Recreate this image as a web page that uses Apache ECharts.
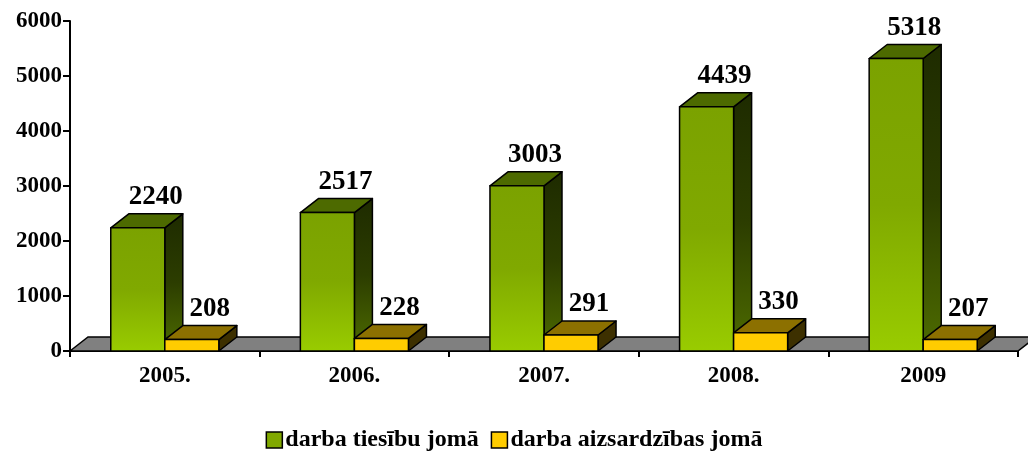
<!DOCTYPE html>
<html>
<head>
<meta charset="utf-8">
<script src="https://cdn.jsdelivr.net/npm/echarts@6/dist/echarts.min.js"></script>
<style>
  html, body { margin: 0; padding: 0; background: #fff; }
  #chart { width: 1028px; height: 452px; }
</style>
</head>
<body>
<div id="chart"></div>
<script>
// data
const years = ['2005.', '2006.', '2007.', '2008.', '2009'];
const tiesibu = [2240, 2517, 3003, 4439, 5318];
const aizsardzibas = [208, 228, 291, 330, 207];
const seriesNames = ['darba tiesību jomā', 'darba aizsardzības jomā'];

const FONT = "'Liberation Serif', 'Times New Roman', serif";
// fake 3d depth offset (pixels)
const DX = 18, DY = -14;
const BAR_FRAC = 0.285;

const chart = echarts.init(document.getElementById('chart'));

function grad(top, mid, bottom) {
  return new echarts.graphic.LinearGradient(0, 0, 0, 1, [
    { offset: 0, color: top },
    { offset: 0.5, color: mid },
    { offset: 1, color: bottom }
  ]);
}

// colours for each box: front / top / side
const looks = [
  {
    front: () => grad('#7ba200', '#80a900', '#99cc00'),
    top: '#4d6a00',
    side: () => grad('#1e2b00', '#2c3d00', '#4e6c00')
  },
  {
    front: () => '#ffcc00',
    top: '#8c7000',
    side: () => '#3d3000'
  }
];

function makeBox(slot) {
  return function (params, api) {
    const i = api.value(0), v = api.value(1);
    const base = api.coord([i, 0]);
    const top = api.coord([i, v]);
    const bw = api.size([1, 0])[0] * BAR_FRAC;
    const x0 = slot === 0 ? base[0] - bw : base[0];
    const x1 = x0 + bw;
    const yb = base[1], yt = top[1];
    const look = looks[slot];
    const line = { stroke: '#000', lineWidth: 1.5, lineJoin: 'round' };
    return {
      type: 'group',
      children: [
        {
          type: 'polygon',
          shape: { points: [[x1, yt], [x1 + DX, yt + DY], [x1 + DX, yb + DY], [x1, yb]] },
          style: Object.assign({ fill: look.side() }, line)
        },
        {
          type: 'polygon',
          shape: { points: [[x0, yt], [x0 + DX, yt + DY], [x1 + DX, yt + DY], [x1, yt]] },
          style: Object.assign({ fill: look.top }, line)
        },
        {
          type: 'rect',
          shape: { x: x0, y: yt, width: bw, height: yb - yt },
          style: Object.assign({ fill: look.front() }, line)
        },
        {
          type: 'text',
          x: (x0 + x1) / 2 + DX,
          y: yt + DY - 3,
          style: {
            text: String(v),
            align: 'center',
            verticalAlign: 'bottom',
            font: 'bold 27px ' + FONT,
            fill: '#000'
          }
        }
      ]
    };
  };
}

function floor(params, api) {
  const cs = params.coordSys;
  const yb = cs.y + cs.height;
  const xl = cs.x, xr = cs.x + cs.width;
  return {
    type: 'polygon',
    shape: { points: [[xl, yb], [xl + DX, yb + DY], [xr + DX, yb + DY], [xr, yb]] },
    style: { fill: '#808080', stroke: '#000', lineWidth: 1.5 }
  };
}

chart.setOption({
  animation: false,
  backgroundColor: '#fff',
  grid: { left: 70, right: 10, top: 21, bottom: 101 },
  legend: {
    data: seriesNames,
    top: 423,
    left: 'center',
    icon: 'rect',
    itemWidth: 16,
    itemHeight: 16,
    itemGap: 12,
    itemStyle: { borderColor: '#000', borderWidth: 1.5 },
    textStyle: { fontFamily: FONT, fontWeight: 'bold', fontSize: 24, color: '#000', padding: [0, 0, 0, -2] }
  },
  xAxis: {
    type: 'category',
    data: years,
    axisLine: { lineStyle: { color: '#000', width: 2 } },
    axisTick: { show: true, length: 6, lineStyle: { color: '#000', width: 2 } },
    axisLabel: { fontFamily: FONT, fontWeight: 'bold', fontSize: 23, color: '#000', margin: 14 },
    splitLine: { show: false }
  },
  yAxis: {
    type: 'value',
    min: 0,
    max: 6000,
    interval: 1000,
    axisLine: { show: true, lineStyle: { color: '#000', width: 2 } },
    axisTick: { show: true, length: 7, lineStyle: { color: '#000', width: 2 } },
    axisLabel: {
      fontFamily: FONT, fontWeight: 'bold', fontSize: 23, color: '#000', margin: 8,
      formatter: v => String(v)
    },
    splitLine: { show: false }
  },
  series: [
    {
      name: 'floor',
      type: 'custom',
      renderItem: floor,
      data: [[0, 0]],
      silent: true,
      z: 1
    },
    {
      name: seriesNames[0],
      type: 'custom',
      renderItem: makeBox(0),
      data: tiesibu.map((v, i) => [i, v]),
      encode: { x: 0, y: 1 },
      itemStyle: { color: '#80a800' },
      clip: false,
      z: 3
    },
    {
      name: seriesNames[1],
      type: 'custom',
      renderItem: makeBox(1),
      data: aizsardzibas.map((v, i) => [i, v]),
      encode: { x: 0, y: 1 },
      itemStyle: { color: '#ffcc00' },
      clip: false,
      z: 4
    }
  ]
});
</script>
</body>
</html>
